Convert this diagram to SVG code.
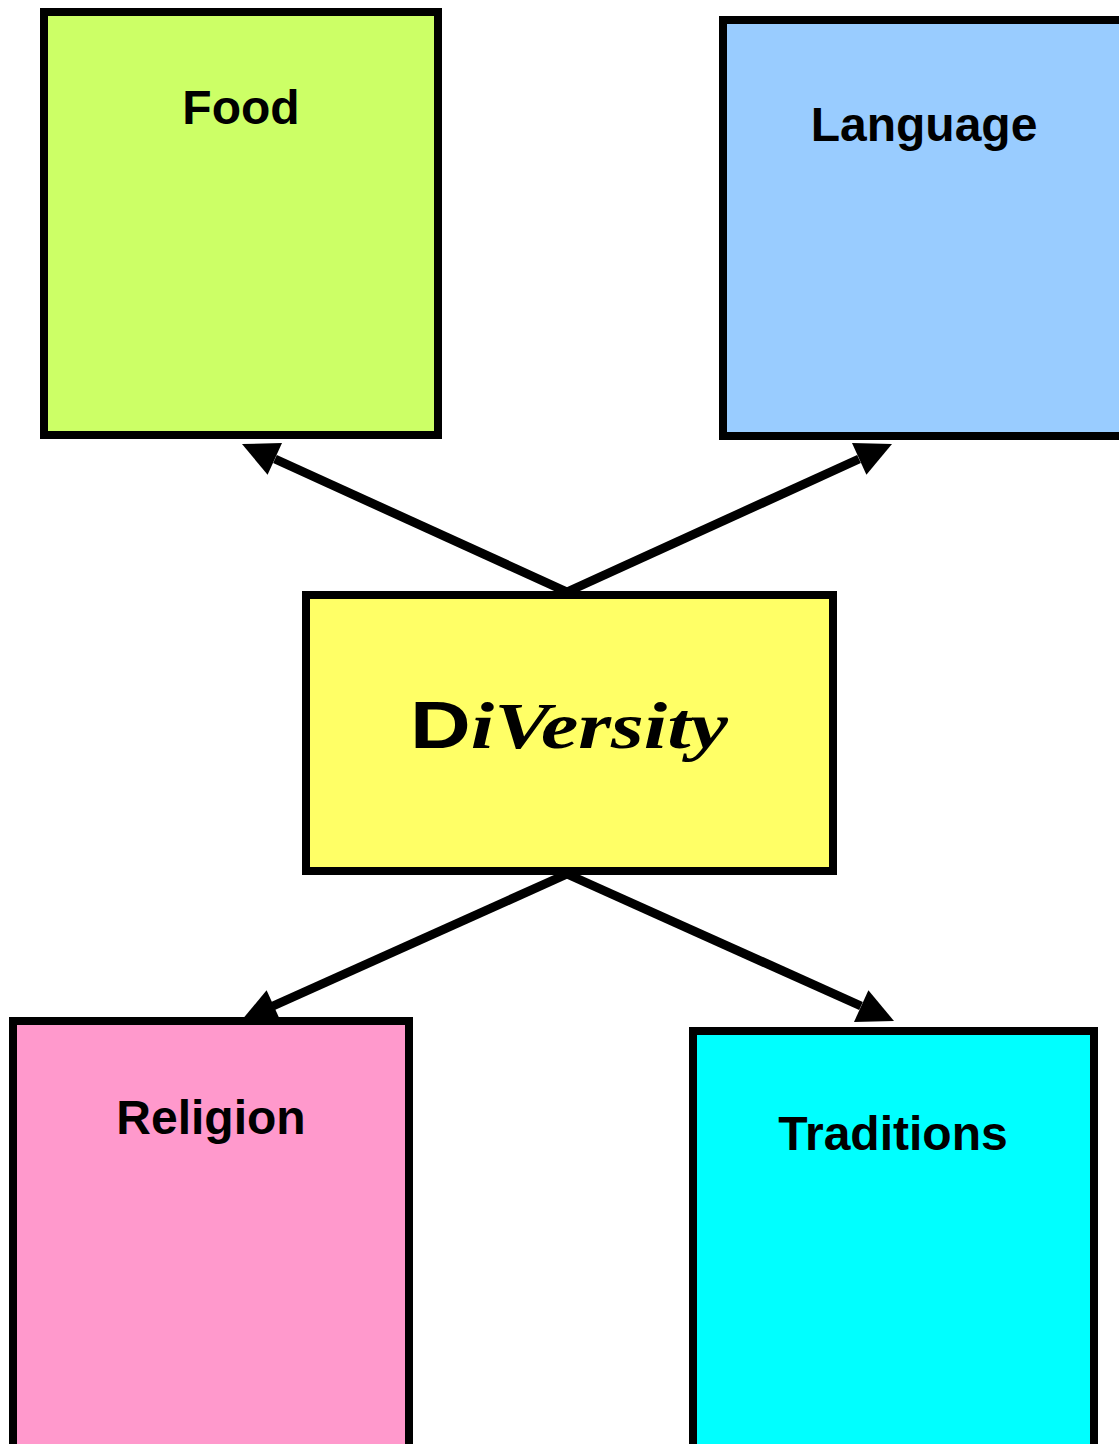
<svg xmlns="http://www.w3.org/2000/svg" width="1119" height="1444" viewBox="0 0 1119 1444">
<style>
.box{stroke:#000;stroke-width:8}
.lbl{font-family:"Liberation Sans",Arial,sans-serif;font-weight:bold;font-size:48px;text-anchor:middle;fill:#000}
.conn{stroke:#000;stroke-width:9;fill:none}
.head{fill:#000;stroke:none}
</style>
<rect width="1119" height="1444" fill="#fff"/>
<g id="connectors">
<line class="conn" x1="567" y1="592" x2="275" y2="459"/>
<polygon class="head" points="242,444 282,443 267.6,474.8"/>
<line class="conn" x1="567" y1="592" x2="859" y2="459"/>
<polygon class="head" points="892,444 852,443 866.4,474.8"/>
<line class="conn" x1="567" y1="874" x2="273" y2="1006"/>
<polygon class="head" points="241,1021 281,1022 266.6,990.3"/>
<line class="conn" x1="567" y1="874" x2="861" y2="1006"/>
<polygon class="head" points="894,1021 854,1022 868.4,990.3"/>
</g>
<g id="food">
<rect class="box" x="44" y="12" width="394" height="423" fill="#ccff66"/>
<text class="lbl" x="241" y="124">Food</text>
</g>
<g id="language">
<rect class="box" x="723" y="20" width="420" height="416" fill="#99ccff"/>
<text class="lbl" x="924" y="141">Language</text>
</g>
<g id="diversity">
<rect class="box" x="306" y="595" width="527" height="276" fill="#ffff66"/>
<text x="410" y="748" font-size="66" textLength="318" lengthAdjust="spacingAndGlyphs" fill="#000"><tspan font-family="'Liberation Sans',Arial,sans-serif" font-weight="bold">D</tspan><tspan font-family="'Liberation Serif','Times New Roman',serif" font-weight="bold" font-style="italic">iVersity</tspan></text>
</g>
<g id="religion">
<rect class="box" x="13" y="1021" width="396" height="440" fill="#ff99cc"/>
<text class="lbl" x="211" y="1134">Religion</text>
</g>
<g id="traditions">
<rect class="box" x="693" y="1031" width="401" height="430" fill="#00ffff"/>
<text class="lbl" x="893" y="1150">Traditions</text>
</g>
</svg>
